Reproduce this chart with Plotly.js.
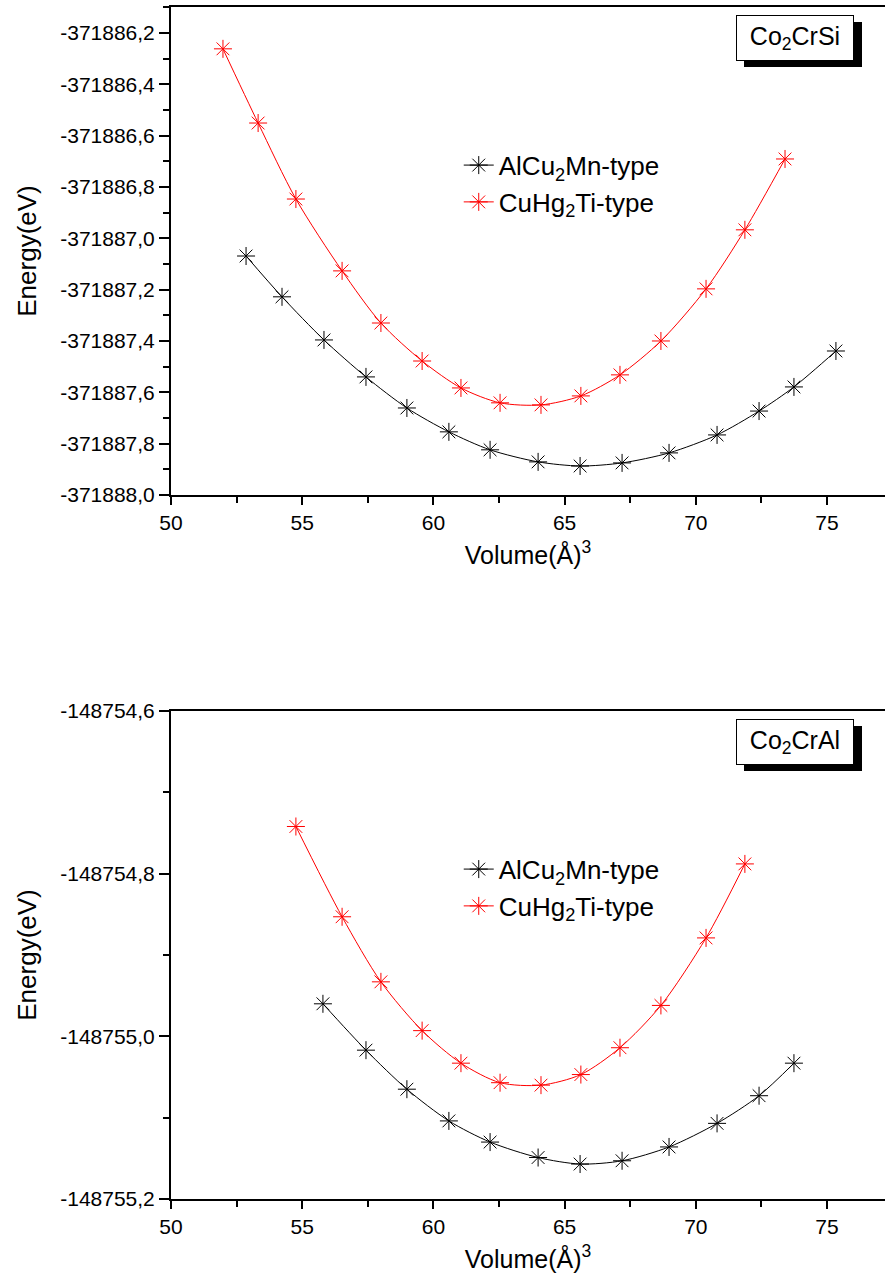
<!DOCTYPE html>
<html>
<head>
<meta charset="utf-8">
<script src="https://cdn.plot.ly/plotly-3.0.1.min.js"></script>
<style>
  html, body { margin: 0; padding: 0; background: #fff; }
  #p1, #p2 { width: 885px; }
  #p1 { height: 638px; }
  #p2 { height: 639px; }
</style>
</head>
<body>
<div id="p1"></div>
<div id="p2"></div>
<script>
// ---- Data: Co2CrSi ----
const siAlCu2MnVol = [52.86, 54.23, 55.83, 57.43, 58.99, 60.59, 62.16, 63.99, 65.59, 67.19, 68.98, 70.81, 72.41, 73.74, 75.34];
const siAlCu2MnE   = [-371887.069, -371887.228, -371887.396, -371887.540, -371887.661, -371887.754, -371887.824, -371887.871, -371887.887, -371887.875, -371887.836, -371887.766, -371887.673, -371887.579, -371887.439];
const siCuHg2TiVol = [51.98, 53.32, 54.76, 56.52, 58.00, 59.57, 61.05, 62.54, 64.10, 65.62, 67.11, 68.67, 70.39, 71.87, 73.40];
const siCuHg2TiE   = [-371886.262, -371886.551, -371886.847, -371887.127, -371887.330, -371887.478, -371887.583, -371887.641, -371887.649, -371887.614, -371887.532, -371887.400, -371887.197, -371886.967, -371886.691];

// ---- Data: Co2CrAl ----
const alAlCu2MnVol = [55.79, 57.43, 58.99, 60.59, 62.16, 63.99, 65.59, 67.19, 68.98, 70.81, 72.41, 73.74];
const alAlCu2MnE   = [-148754.960, -148755.017, -148755.065, -148755.104, -148755.130, -148755.149, -148755.157, -148755.153, -148755.136, -148755.107, -148755.073, -148755.033];
const alCuHg2TiVol = [54.76, 56.52, 58.00, 59.57, 61.05, 62.54, 64.10, 65.62, 67.11, 68.67, 70.39, 71.87];
const alCuHg2TiE   = [-148754.742, -148754.853, -148754.933, -148754.993, -148755.033, -148755.057, -148755.060, -148755.047, -148755.014, -148754.962, -148754.879, -148754.788];

// ---- Tick labels ----
const siTickVals = [-371888.0, -371887.8, -371887.6, -371887.4, -371887.2, -371887.0, -371886.8, -371886.6, -371886.4, -371886.2];
const siTickText = ['-371888,0', '-371887,8', '-371887,6', '-371887,4', '-371887,2', '-371887,0', '-371886,8', '-371886,6', '-371886,4', '-371886,2'];
const alTickVals = [-148755.2, -148755.0, -148754.8, -148754.6];
const alTickText = ['-148755,2', '-148755,0', '-148754,8', '-148754,6'];
const xTickVals = [50, 55, 60, 65, 70, 75];
const xTickText = ['50', '55', '60', '65', '70', '75'];

const seriesNames = ['AlCu<sub>2</sub>Mn-type', 'CuHg<sub>2</sub>Ti-type'];
const compoundNames = ['Co<sub>2</sub>CrSi', 'Co<sub>2</sub>CrAl'];
const xTitle = 'Volume(Å)<sup>3</sup>';
const yTitle = 'Energy(eV)';

const FONT = 'Liberation Sans, Arial, sans-serif';

function trace(x, y, name, color) {
  return {
    x: x, y: y, name: name, type: 'scatter', mode: 'lines+markers',
    line: {color: color, width: 1, shape: 'spline', smoothing: 0.8},
    marker: {symbol: 'asterisk-open', size: 15, color: color, line: {color: color, width: 1}}
  };
}

function layout(yrange, tv, tt, m, boxText) {
  const plotH = m.h - m.t - m.b;
  // shadow box (paper coords) around the label box
  const bx0 = (744 - 171) / 714, bx1 = (862 - 171) / 714;
  const by0 = 1 - (m.boxTopPx + 52) / plotH, by1 = 1 - (m.boxTopPx + 7) / plotH;
  return {
    width: 885, height: m.h,
    margin: {l: 171, r: 0, t: m.t, b: m.b},
    paper_bgcolor: '#fff', plot_bgcolor: '#fff',
    font: {family: FONT, color: '#000', size: 21},
    showlegend: true,
    legend: {
      x: 0.403, y: 0.724, xanchor: 'left', yanchor: 'top',
      bgcolor: 'rgba(0,0,0,0)', font: {size: 26, family: FONT},
      itemwidth: 30, tracegroupgap: 0
    },
    xaxis: {
      range: [50, 77.21], tickmode: 'array', tickvals: xTickVals, ticktext: xTickText,
      showgrid: false, zeroline: false,
      showline: true, linecolor: '#000', linewidth: 2, mirror: true,
      ticks: 'outside', ticklen: 8, tickwidth: 2, tickcolor: '#000',
      minor: {dtick: 2.5, tick0: 50, ticks: 'outside', ticklen: 6, tickwidth: 2, tickcolor: '#000', showgrid: false},
      tickfont: {size: 21},
      title: {text: xTitle, font: {size: 25}, standoff: 13}
    },
    yaxis: {
      range: yrange, tickmode: 'array', tickvals: tv, ticktext: tt,
      showgrid: false, zeroline: false,
      showline: true, linecolor: '#000', linewidth: 2, mirror: true,
      ticks: 'outside', ticklen: 10, tickwidth: 2, tickcolor: '#000',
      minor: {dtick: 0.1, ticks: 'outside', ticklen: 6, tickwidth: 2, tickcolor: '#000', showgrid: false},
      tickfont: {size: 21},
      title: {text: yTitle, font: {size: 26}, standoff: 16}
    },
    shapes: [
      {type: 'rect', xref: 'paper', yref: 'paper', x0: bx0, x1: bx1, y0: by0, y1: by1,
       fillcolor: '#000', line: {width: 0}, layer: 'above'}
    ],
    annotations: [
      {xref: 'paper', yref: 'paper', x: (736 - 171) / 714, y: 1 - m.boxTopPx / plotH,
       xanchor: 'left', yanchor: 'top',
       text: boxText, showarrow: false, font: {size: 25, color: '#000'},
       width: 108, height: 36, align: 'center', valign: 'middle',
       bgcolor: '#fff', bordercolor: '#000', borderwidth: 1, borderpad: 4}
    ]
  };
}

const cfg = {staticPlot: true, displayModeBar: false};

Plotly.newPlot('p1', [
  trace(siAlCu2MnVol, siAlCu2MnE, seriesNames[0], '#000'),
  trace(siCuHg2TiVol, siCuHg2TiE, seriesNames[1], '#ff0000')
], layout([-371888.0, -371886.099], siTickVals, siTickText, {h: 638, t: 7, b: 143, boxTopPx: 8}, compoundNames[0]), cfg);

Plotly.newPlot('p2', [
  trace(alAlCu2MnVol, alAlCu2MnE, seriesNames[0], '#000'),
  trace(alCuHg2TiVol, alCuHg2TiE, seriesNames[1], '#ff0000')
], layout([-148755.2, -148754.6], alTickVals, alTickText, {h: 639, t: 73, b: 78, boxTopPx: 8}, compoundNames[1]), cfg);
</script>
</body>
</html>
